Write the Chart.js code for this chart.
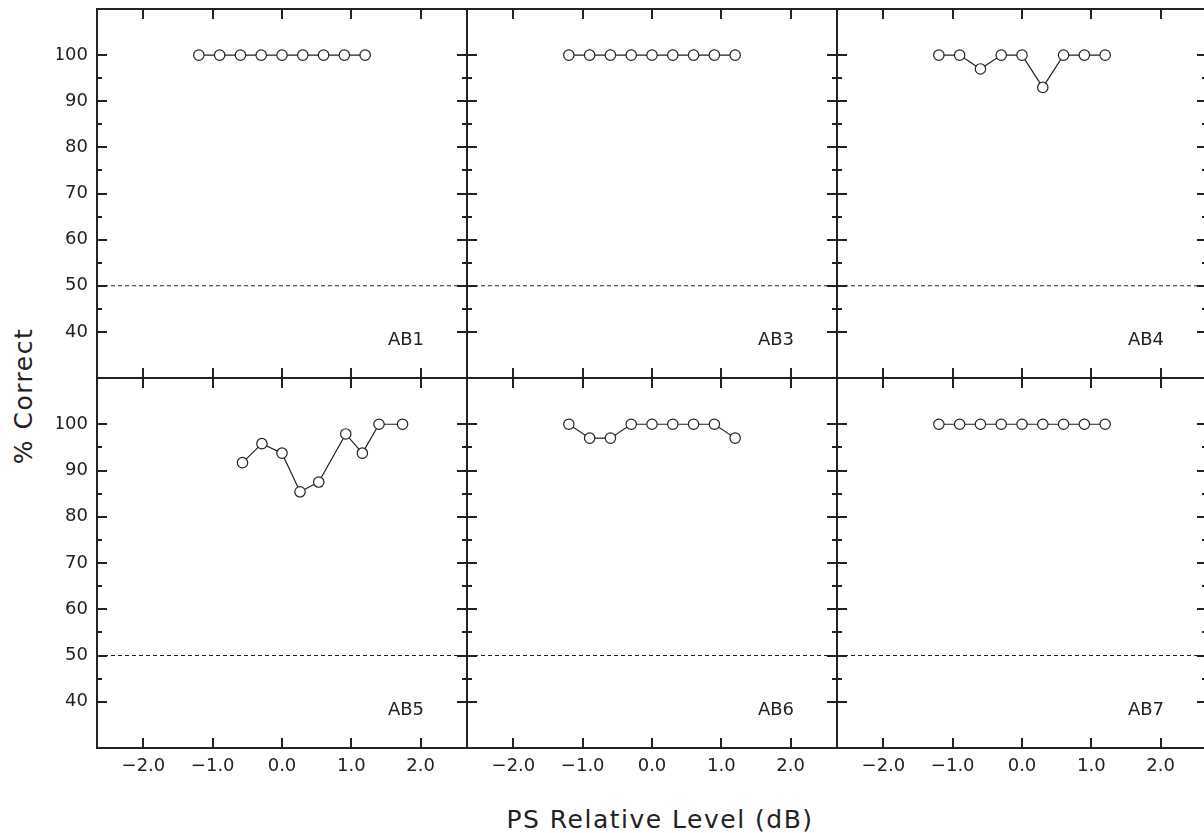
<!DOCTYPE html>
<html>
<head>
<meta charset="utf-8">
<title>PS Relative Level</title>
<script src="https://cdn.jsdelivr.net/npm/chart.js"></script>
<style>
  html, body { margin: 0; padding: 0; background: #fff; overflow: hidden; }
  #wrap { position: relative; width: 1204px; height: 833px; overflow: hidden; }
  #wrap canvas { position: absolute; left: 0; top: 0; }
  .axis-title {
    position: absolute;
    font-family: "DejaVu Sans", sans-serif;
    font-size: 25px;
    letter-spacing: 1.5px;
    color: #222;
    white-space: nowrap;
    transform: translate(-50%, -50%);
  }
  #ytitle { left: 23px; top: 396px; transform: translate(-50%, -50%) rotate(-90deg); }
  #xtitle { left: 660px; top: 819px; }
</style>
</head>
<body>
<div id="wrap">
  <div class="axis-title" id="ytitle">% Correct</div>
  <div class="axis-title" id="xtitle">PS Relative Level (dB)</div>
</div>
<script>
// subjects, laid out left to right, top row first
const subjects = ['AB1', 'AB3', 'AB4', 'AB5', 'AB6', 'AB7'];

// PS level relative to threshold (dB)
const levels = [-1.2, -0.9, -0.6, -0.3, 0.0, 0.3, 0.6, 0.9, 1.2];
const levelsAB5 = [-0.57, -0.29, 0.0, 0.26, 0.53, 0.92, 1.16, 1.40, 1.74];

// percent correct per subject
const pctAB1 = [100, 100, 100, 100, 100, 100, 100, 100, 100];
const pctAB3 = [100, 100, 100, 100, 100, 100, 100, 100, 100];
const pctAB4 = [100, 100, 97, 100, 100, 93, 100, 100, 100];
const pctAB5 = [91.7, 95.8, 93.75, 85.4, 87.5, 97.9, 93.75, 100, 100];
const pctAB6 = [100, 97, 97, 100, 100, 100, 100, 100, 97];
const pctAB7 = [100, 100, 100, 100, 100, 100, 100, 100, 100];

const xTicks = [-2, -1, 0, 1, 2];
const yTicks = [40, 50, 60, 70, 80, 90, 100];
const yMinorTicks = [45, 55, 65, 75, 85, 95];
const chanceLevel = 50;

const X_MIN = -2.67, X_MAX = 2.67;
const Y_MIN = 30, Y_MAX = 110;

const panelX = [levels, levels, levels, levelsAB5, levels, levels];
const panelY = [pctAB1, pctAB3, pctAB4, pctAB5, pctAB6, pctAB7];

// panel grid geometry
const colEdges = [97, 467, 837, 1207];
const rowEdges = [9, 378, 748];
const CANVAS_W = 1220, CANVAS_H = 833;
const AXIS_W = 40, AXIS_H = 40;
const INK = '#222';

Chart.defaults.font.family = '"DejaVu Sans", sans-serif';
Chart.defaults.font.size = 18;
Chart.defaults.color = INK;

function fmtLevel(v) {
  const s = Math.abs(v).toFixed(1);
  return v < 0 ? '\u2212' + s : s;
}

// box, inward ticks on all four sides and subject label
const panelFrame = {
  id: 'panelFrame',
  afterDatasetsDraw(chart, args, opts) {
    const { ctx, chartArea: a, scales: { x, y } } = chart;
    ctx.save();
    ctx.strokeStyle = INK;
    ctx.lineWidth = 2;
    ctx.beginPath();
    xTicks.forEach(v => {
      const px = Math.round(x.getPixelForValue(v));
      ctx.moveTo(px, a.bottom); ctx.lineTo(px, a.bottom - 10);
      ctx.moveTo(px, a.top); ctx.lineTo(px, a.top + 10);
    });
    const yMark = (v, len) => {
      const py = Math.round(y.getPixelForValue(v));
      ctx.moveTo(a.left, py); ctx.lineTo(a.left + len, py);
      ctx.moveTo(a.right, py); ctx.lineTo(a.right - len, py);
    };
    yTicks.forEach(v => yMark(v, 10));
    yMinorTicks.forEach(v => yMark(v, 5));
    ctx.stroke();
    ctx.strokeRect(a.left, a.top, a.right - a.left, a.bottom - a.top);

    ctx.fillStyle = INK;
    ctx.font = '18px "DejaVu Sans", sans-serif';
    ctx.textAlign = 'right';
    ctx.textBaseline = 'middle';
    ctx.fillText(opts.label, a.right - 43, a.bottom - 38);
    ctx.restore();
  }
};

const wrap = document.getElementById('wrap');

subjects.forEach((name, i) => {
  const col = i % 3, row = Math.floor(i / 3);
  const L = colEdges[col], R = colEdges[col + 1];
  const T = rowEdges[row], B = rowEdges[row + 1];
  const showY = col === 0, showX = row === 1;

  const canvas = document.createElement('canvas');
  canvas.width = CANVAS_W;
  canvas.height = CANVAS_H;
  wrap.appendChild(canvas);

  new Chart(canvas, {
    type: 'line',
    data: {
      datasets: [
        {
          data: [{ x: X_MIN, y: chanceLevel }, { x: X_MAX, y: chanceLevel }],
          borderColor: INK,
          borderWidth: 1,
          borderDash: [4, 3],
          pointRadius: 0
        },
        {
          data: panelX[i].map((v, k) => ({ x: v, y: panelY[i][k] })),
          borderColor: INK,
          borderWidth: 1.2,
          pointRadius: 5.2,
          pointBackgroundColor: '#fff',
          pointBorderColor: INK,
          pointBorderWidth: 1.2
        }
      ]
    },
    options: {
      responsive: false,
      animation: false,
      events: [],
      layout: {
        padding: { left: L - AXIS_W, top: T, right: CANVAS_W - R, bottom: CANVAS_H - B - AXIS_H }
      },
      plugins: {
        legend: { display: false },
        tooltip: { enabled: false },
        panelFrame: { label: name }
      },
      scales: {
        x: {
          type: 'linear',
          min: X_MIN,
          max: X_MAX,
          grid: { display: false, drawTicks: false },
          border: { display: false },
          afterBuildTicks: s => { s.ticks = xTicks.map(v => ({ value: v })); },
          afterFit: s => { s.height = AXIS_H; s.paddingLeft = 0; s.paddingRight = 0; },
          ticks: { display: showX, padding: 8, autoSkip: false, maxRotation: 0, callback: fmtLevel }
        },
        y: {
          type: 'linear',
          min: Y_MIN,
          max: Y_MAX,
          grid: { display: false, drawTicks: false },
          border: { display: false },
          afterBuildTicks: s => { s.ticks = yTicks.map(v => ({ value: v })); },
          afterFit: s => { s.width = AXIS_W; s.paddingTop = 0; s.paddingBottom = 0; },
          ticks: { display: showY, padding: 9, autoSkip: false, callback: v => String(v) }
        }
      }
    },
    plugins: [panelFrame]
  });
});
</script>
</body>
</html>
